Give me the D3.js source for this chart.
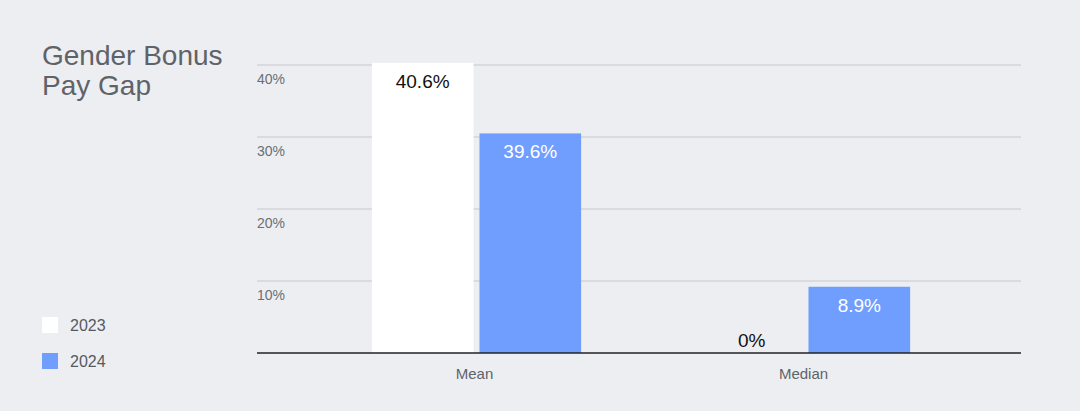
<!DOCTYPE html>
<html>
<head>
<meta charset="utf-8">
<script src="https://cdn.jsdelivr.net/npm/d3@7"></script>
<style>
  html, body { margin: 0; padding: 0; background: #edeef2; }
  svg { display: block; font-family: "Liberation Sans", Arial, Helvetica, sans-serif; }
</style>
</head>
<body>
<svg id="chart" width="1080" height="411"></svg>
<script>
"use strict";

var categories = ["Mean", "Median"];
var years = ["2023", "2024"];
// bar heights as drawn in the picture (percent)
var bars2023 = [40.3, 0];
var bars2024 = [30.5, 9.2];
// labels as printed on the bars
var labels2023 = ["40.6%", "0%"];
var labels2024 = ["39.6%", "8.9%"];
var yTicks = [10, 20, 30, 40];
var titleLines = ["Gender Bonus", "Pay Gap"];

var colors = { "2023": "#ffffff", "2024": "#6f9eff" };
var labelColors = { "2023": "#111111", "2024": "#ffffff" };

var svg = d3.select("#chart");
svg.append("rect").attr("width", 1080).attr("height", 411).attr("fill", "#edeef2");

var left = 257, right = 1021, baseY = 353;

var y = d3.scaleLinear().domain([0, 40]).range([baseY, 65]);

var x0 = d3.scaleBand().domain(categories).range([left + 3, right + 1])
    .paddingInner(0.364).paddingOuter(0.34);
var x1 = d3.scaleBand().domain(years).range([0, x0.bandwidth()])
    .paddingInner(6 / 108).paddingOuter(0);

// gridlines + tick labels
var grid = svg.append("g");
grid.selectAll("line").data(yTicks).enter().append("line")
    .attr("x1", left).attr("x2", right)
    .attr("y1", d => y(d)).attr("y2", d => y(d))
    .attr("stroke", "#d3d4d9").attr("stroke-width", 1.5);
grid.selectAll("text").data(yTicks).enter().append("text")
    .attr("x", left).attr("y", d => y(d) + 19)
    .attr("font-size", 14).attr("fill", "#6b6e73")
    .text(d => d + "%");

// data rows
var rows = categories.map((c, i) => years.map(yr => ({
    cat: c, year: yr,
    value: yr === "2023" ? bars2023[i] : bars2024[i],
    label: yr === "2023" ? labels2023[i] : labels2024[i]
})));

var groups = svg.append("g").selectAll("g").data(rows).enter().append("g")
    .attr("transform", (d, i) => "translate(" + x0(categories[i]) + ",0)");

groups.selectAll("rect").data(d => d).enter().append("rect")
    .attr("x", d => x1(d.year))
    .attr("width", x1.bandwidth())
    .attr("y", d => y(d.value))
    .attr("height", d => baseY - y(d.value))
    .attr("fill", d => colors[d.year]);

groups.selectAll("text").data(d => d).enter().append("text")
    .attr("x", d => x1(d.year) + x1.bandwidth() / 2)
    .attr("y", d => d.value > 0 ? y(d.value) + 25 : baseY - 6)
    .attr("text-anchor", "middle")
    .attr("font-size", 19)
    .attr("fill", d => d.value > 0 ? labelColors[d.year] : "#111111")
    .text(d => d.label);

// baseline
svg.append("line").attr("x1", left).attr("x2", right)
    .attr("y1", baseY).attr("y2", baseY)
    .attr("stroke", "#222222").attr("stroke-width", 1.5);

// category labels
svg.append("g").selectAll("text").data(categories).enter().append("text")
    .attr("x", d => x0(d) + x0.bandwidth() / 2 - 2)
    .attr("y", 379)
    .attr("text-anchor", "middle")
    .attr("font-size", 15).attr("fill", "#5f6368")
    .text(d => d);

// title
svg.append("text").attr("x", 42).attr("y", 65)
    .attr("font-size", 28).attr("fill", "#5f6368")
    .selectAll("tspan").data(titleLines).enter().append("tspan")
    .attr("x", 42).attr("dy", (d, i) => i === 0 ? 0 : 30)
    .text(d => d);

// legend
var legend = svg.append("g").selectAll("g").data(years).enter().append("g")
    .attr("transform", (d, i) => "translate(42," + (317 + i * 36) + ")");
legend.append("rect").attr("width", 16).attr("height", 16)
    .attr("fill", d => colors[d]);
legend.append("text").attr("x", 28).attr("y", 14)
    .attr("font-size", 16).attr("fill", "#555a60")
    .text(d => d);
</script>
</body>
</html>
